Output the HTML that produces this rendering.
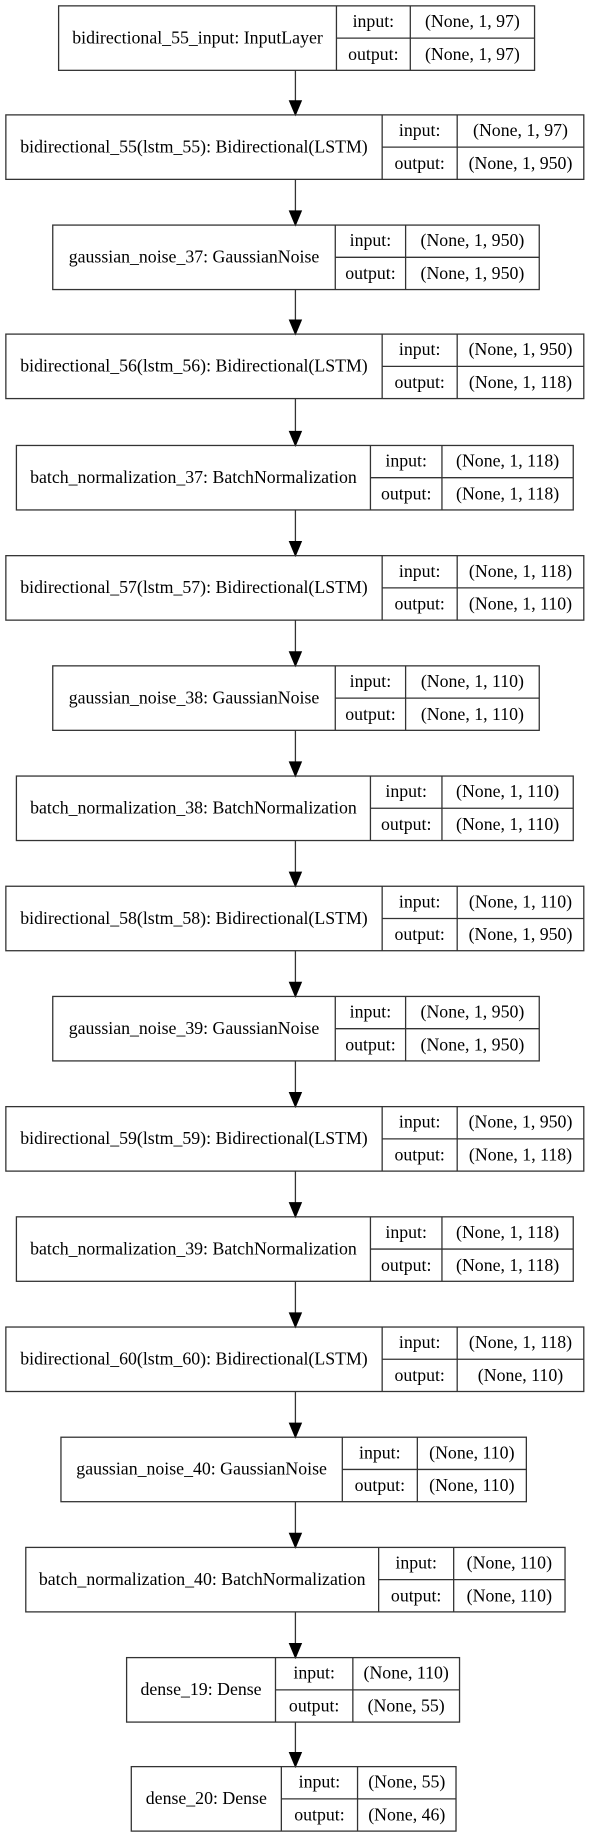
<!DOCTYPE html>
<html><head><meta charset="utf-8"><style>
html,body{margin:0;padding:0;background:#fff;}
svg{display:block;}
text{font-family:"Liberation Serif",serif;font-size:15.2px;fill:#000;text-anchor:middle;}
rect,line{stroke:#333;stroke-width:1.1;fill:none;}
polygon{fill:#000;stroke:#000;}
</style></head><body>
<svg width="592" height="1844" viewBox="0 0 505 1573" preserveAspectRatio="none" xmlns="http://www.w3.org/2000/svg">
<rect x="0" y="0" width="505" height="1573" style="fill:#fff;stroke:none"/>
<g>
<line x1="252" y1="60" x2="252" y2="88"/><polygon points="247,86 257,86 252,98"/>
<line x1="252" y1="153" x2="252" y2="182"/><polygon points="247,180 257,180 252,192"/>
<line x1="252" y1="247" x2="252" y2="275"/><polygon points="247,273 257,273 252,285"/>
<line x1="252" y1="340" x2="252" y2="370"/><polygon points="247,368 257,368 252,380"/>
<line x1="252" y1="435" x2="252" y2="464"/><polygon points="247,462 257,462 252,474"/>
<line x1="252" y1="529" x2="252" y2="558"/><polygon points="247,556 257,556 252,568"/>
<line x1="252" y1="623" x2="252" y2="652"/><polygon points="247,650 257,650 252,662"/>
<line x1="252" y1="717" x2="252" y2="746"/><polygon points="247,744 257,744 252,756"/>
<line x1="252" y1="811" x2="252" y2="840"/><polygon points="247,838 257,838 252,850"/>
<line x1="252" y1="905" x2="252" y2="934"/><polygon points="247,932 257,932 252,944"/>
<line x1="252" y1="999" x2="252" y2="1028"/><polygon points="247,1026 257,1026 252,1038"/>
<line x1="252" y1="1093" x2="252" y2="1122"/><polygon points="247,1120 257,1120 252,1132"/>
<line x1="252" y1="1187" x2="252" y2="1216"/><polygon points="247,1214 257,1214 252,1226"/>
<line x1="252" y1="1281" x2="252" y2="1310"/><polygon points="247,1308 257,1308 252,1320"/>
<line x1="252" y1="1375" x2="252" y2="1404"/><polygon points="247,1402 257,1402 252,1414"/>
<line x1="252" y1="1469" x2="252" y2="1497"/><polygon points="247,1495 257,1495 252,1507"/>
</g>

<rect x="50" y="5" width="406" height="55"/><line x1="287" y1="5" x2="287" y2="60"/><line x1="350" y1="5" x2="350" y2="60"/><line x1="287" y1="32.5" x2="456" y2="32.5"/>
<text x="168.5" y="37">bidirectional_55_input: InputLayer</text><text x="318.5" y="23">input:</text><text x="318.5" y="51">output:</text><text x="403" y="23">(None, 1, 97)</text><text x="403" y="51">(None, 1, 97)</text>

<rect x="5" y="98" width="493" height="55"/><line x1="326" y1="98" x2="326" y2="153"/><line x1="390" y1="98" x2="390" y2="153"/><line x1="326" y1="125.5" x2="498" y2="125.5"/>
<text x="165.5" y="130">bidirectional_55(lstm_55): Bidirectional(LSTM)</text><text x="358" y="116">input:</text><text x="358" y="144">output:</text><text x="444" y="116">(None, 1, 97)</text><text x="444" y="144">(None, 1, 950)</text>

<rect x="45" y="192" width="415" height="55"/><line x1="286" y1="192" x2="286" y2="247"/><line x1="346" y1="192" x2="346" y2="247"/><line x1="286" y1="219.5" x2="460" y2="219.5"/>
<text x="165.5" y="224">gaussian_noise_37: GaussianNoise</text><text x="316" y="210">input:</text><text x="316" y="238">output:</text><text x="403" y="210">(None, 1, 950)</text><text x="403" y="238">(None, 1, 950)</text>

<rect x="5" y="285" width="493" height="55"/><line x1="326" y1="285" x2="326" y2="340"/><line x1="390" y1="285" x2="390" y2="340"/><line x1="326" y1="312.5" x2="498" y2="312.5"/>
<text x="165.5" y="317">bidirectional_56(lstm_56): Bidirectional(LSTM)</text><text x="358" y="303">input:</text><text x="358" y="331">output:</text><text x="444" y="303">(None, 1, 950)</text><text x="444" y="331">(None, 1, 118)</text>

<rect x="14" y="380" width="475" height="55"/><line x1="316" y1="380" x2="316" y2="435"/><line x1="377" y1="380" x2="377" y2="435"/><line x1="316" y1="407.5" x2="489" y2="407.5"/>
<text x="165" y="412">batch_normalization_37: BatchNormalization</text><text x="346.5" y="398">input:</text><text x="346.5" y="426">output:</text><text x="433" y="398">(None, 1, 118)</text><text x="433" y="426">(None, 1, 118)</text>

<rect x="5" y="474" width="493" height="55"/><line x1="326" y1="474" x2="326" y2="529"/><line x1="390" y1="474" x2="390" y2="529"/><line x1="326" y1="501.5" x2="498" y2="501.5"/>
<text x="165.5" y="506">bidirectional_57(lstm_57): Bidirectional(LSTM)</text><text x="358" y="492">input:</text><text x="358" y="520">output:</text><text x="444" y="492">(None, 1, 118)</text><text x="444" y="520">(None, 1, 110)</text>

<rect x="45" y="568" width="415" height="55"/><line x1="286" y1="568" x2="286" y2="623"/><line x1="346" y1="568" x2="346" y2="623"/><line x1="286" y1="595.5" x2="460" y2="595.5"/>
<text x="165.5" y="600">gaussian_noise_38: GaussianNoise</text><text x="316" y="586">input:</text><text x="316" y="614">output:</text><text x="403" y="586">(None, 1, 110)</text><text x="403" y="614">(None, 1, 110)</text>

<rect x="14" y="662" width="475" height="55"/><line x1="316" y1="662" x2="316" y2="717"/><line x1="377" y1="662" x2="377" y2="717"/><line x1="316" y1="689.5" x2="489" y2="689.5"/>
<text x="165" y="694">batch_normalization_38: BatchNormalization</text><text x="346.5" y="680">input:</text><text x="346.5" y="708">output:</text><text x="433" y="680">(None, 1, 110)</text><text x="433" y="708">(None, 1, 110)</text>

<rect x="5" y="756" width="493" height="55"/><line x1="326" y1="756" x2="326" y2="811"/><line x1="390" y1="756" x2="390" y2="811"/><line x1="326" y1="783.5" x2="498" y2="783.5"/>
<text x="165.5" y="788">bidirectional_58(lstm_58): Bidirectional(LSTM)</text><text x="358" y="774">input:</text><text x="358" y="802">output:</text><text x="444" y="774">(None, 1, 110)</text><text x="444" y="802">(None, 1, 950)</text>

<rect x="45" y="850" width="415" height="55"/><line x1="286" y1="850" x2="286" y2="905"/><line x1="346" y1="850" x2="346" y2="905"/><line x1="286" y1="877.5" x2="460" y2="877.5"/>
<text x="165.5" y="882">gaussian_noise_39: GaussianNoise</text><text x="316" y="868">input:</text><text x="316" y="896">output:</text><text x="403" y="868">(None, 1, 950)</text><text x="403" y="896">(None, 1, 950)</text>

<rect x="5" y="944" width="493" height="55"/><line x1="326" y1="944" x2="326" y2="999"/><line x1="390" y1="944" x2="390" y2="999"/><line x1="326" y1="971.5" x2="498" y2="971.5"/>
<text x="165.5" y="976">bidirectional_59(lstm_59): Bidirectional(LSTM)</text><text x="358" y="962">input:</text><text x="358" y="990">output:</text><text x="444" y="962">(None, 1, 950)</text><text x="444" y="990">(None, 1, 118)</text>

<rect x="14" y="1038" width="475" height="55"/><line x1="316" y1="1038" x2="316" y2="1093"/><line x1="377" y1="1038" x2="377" y2="1093"/><line x1="316" y1="1065.5" x2="489" y2="1065.5"/>
<text x="165" y="1070">batch_normalization_39: BatchNormalization</text><text x="346.5" y="1056">input:</text><text x="346.5" y="1084">output:</text><text x="433" y="1056">(None, 1, 118)</text><text x="433" y="1084">(None, 1, 118)</text>

<rect x="5" y="1132" width="493" height="55"/><line x1="326" y1="1132" x2="326" y2="1187"/><line x1="390" y1="1132" x2="390" y2="1187"/><line x1="326" y1="1159.5" x2="498" y2="1159.5"/>
<text x="165.5" y="1164">bidirectional_60(lstm_60): Bidirectional(LSTM)</text><text x="358" y="1150">input:</text><text x="358" y="1178">output:</text><text x="444" y="1150">(None, 1, 118)</text><text x="444" y="1178">(None, 110)</text>

<rect x="52" y="1226" width="397" height="55"/><line x1="292" y1="1226" x2="292" y2="1281"/><line x1="356" y1="1226" x2="356" y2="1281"/><line x1="292" y1="1253.5" x2="449" y2="1253.5"/>
<text x="172" y="1258">gaussian_noise_40: GaussianNoise</text><text x="324" y="1244">input:</text><text x="324" y="1272">output:</text><text x="402.5" y="1244">(None, 110)</text><text x="402.5" y="1272">(None, 110)</text>

<rect x="22" y="1320" width="460" height="55"/><line x1="323" y1="1320" x2="323" y2="1375"/><line x1="387" y1="1320" x2="387" y2="1375"/><line x1="323" y1="1347.5" x2="482" y2="1347.5"/>
<text x="172.5" y="1352">batch_normalization_40: BatchNormalization</text><text x="355" y="1338">input:</text><text x="355" y="1366">output:</text><text x="434.5" y="1338">(None, 110)</text><text x="434.5" y="1366">(None, 110)</text>

<rect x="108" y="1414" width="284" height="55"/><line x1="235" y1="1414" x2="235" y2="1469"/><line x1="301" y1="1414" x2="301" y2="1469"/><line x1="235" y1="1441.5" x2="392" y2="1441.5"/>
<text x="171.5" y="1446">dense_19: Dense</text><text x="268" y="1432">input:</text><text x="268" y="1460">output:</text><text x="346.5" y="1432">(None, 110)</text><text x="346.5" y="1460">(None, 55)</text>

<rect x="112" y="1507" width="277" height="55"/><line x1="240" y1="1507" x2="240" y2="1562"/><line x1="305" y1="1507" x2="305" y2="1562"/><line x1="240" y1="1534.5" x2="389" y2="1534.5"/>
<text x="176" y="1539">dense_20: Dense</text><text x="272.5" y="1525">input:</text><text x="272.5" y="1553">output:</text><text x="347" y="1525">(None, 55)</text><text x="347" y="1553">(None, 46)</text>
</svg>
</body></html>
